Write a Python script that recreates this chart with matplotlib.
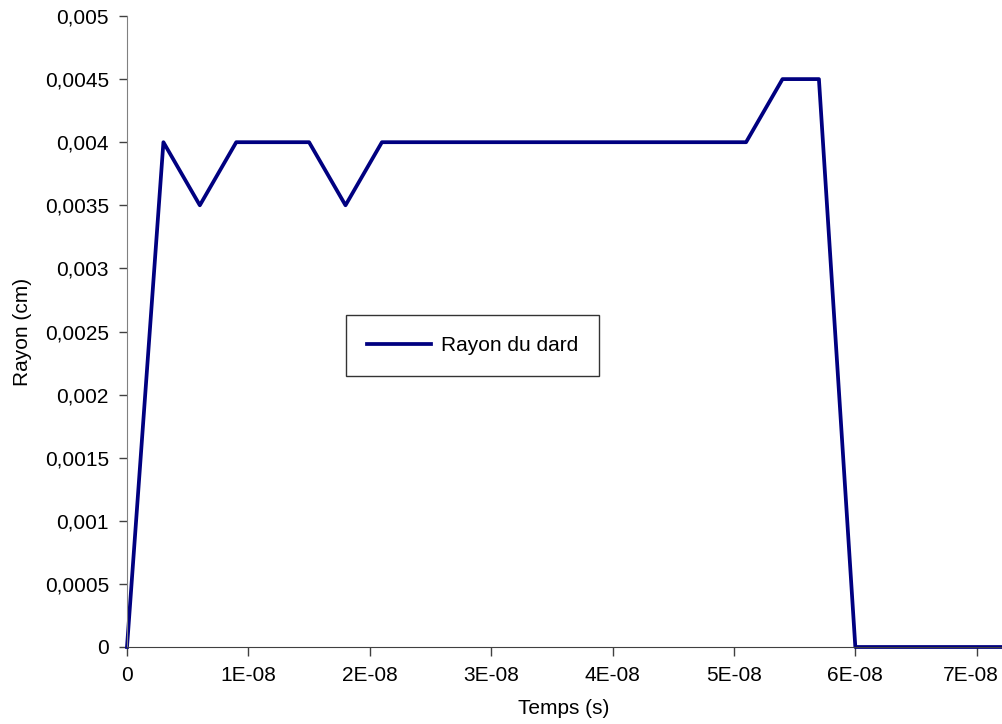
import matplotlib
matplotlib.use('Agg')
import matplotlib.pyplot as plt
import matplotlib.transforms as mtransforms
from matplotlib.ticker import FuncFormatter, MultipleLocator

plt.rcParams['font.family'] = ['Liberation Sans', 'DejaVu Sans']

# temps (s) et rayon (cm)
temps = [0, 3e-9, 6e-9, 9e-9, 12e-9, 15e-9, 18e-9, 21e-9, 24e-9, 27e-9,
         30e-9, 33e-9, 36e-9, 39e-9, 42e-9, 45e-9, 48e-9, 51e-9, 54e-9,
         57e-9, 60e-9, 63e-9, 66e-9, 69e-9, 72e-9]
rayon = [0, 0.004, 0.0035, 0.004, 0.004, 0.004, 0.0035, 0.004, 0.004, 0.004,
         0.004, 0.004, 0.004, 0.004, 0.004, 0.004, 0.004, 0.004, 0.0045,
         0.0045, 0, 0, 0, 0, 0]

fig = plt.figure(figsize=(10.03, 7.24), dpi=100)
ax = fig.add_axes([127 / 1003, 77 / 724, 874 / 1003, 631 / 724])

ax.plot(temps, rayon, color='#000080', lw=2.7, label='Rayon du dard', clip_on=False)

ax.set_xlim(0, 7.2e-8)
ax.set_ylim(0, 0.005)
ax.xaxis.set_major_locator(MultipleLocator(1e-8))
ax.yaxis.set_major_locator(MultipleLocator(0.0005))


def fmt_x(v, pos):
    n = int(round(v * 1e8))
    return '0' if n == 0 else '%dE-08' % n


def fmt_y(v, pos):
    return ('%g' % round(v, 6)).replace('.', ',')


ax.xaxis.set_major_formatter(FuncFormatter(fmt_x))
ax.yaxis.set_major_formatter(FuncFormatter(fmt_y))

for s in ['top', 'right']:
    ax.spines[s].set_visible(False)
ax.spines['left'].set_color('#808080')
ax.spines['bottom'].set_color('#404040')
ax.tick_params(direction='out', width=1, color='#404040', labelsize=15)
ax.tick_params(axis='y', length=6, pad=7)
ax.tick_params(axis='x', length=6.5, pad=7)

ax.set_xlabel('Temps (s)', fontsize=15, labelpad=10)
ax.set_ylabel('Rayon (cm)', fontsize=15, labelpad=9)

leg = ax.legend(loc='center', bbox_to_anchor=(0.395, 0.478), fontsize=15,
                fancybox=False, frameon=True, borderpad=1.0, handlelength=3.1,
                handletextpad=0.45, borderaxespad=0)
leg.get_frame().set_edgecolor('black')
leg.get_frame().set_linewidth(1.0)

# le dernier libelle (7E-08) est un peu decale a gauche pour rester dans l'image
fig.canvas.draw()
shift = mtransforms.ScaledTranslation(-6 / 100, 0, fig.dpi_scale_trans)
for lab in ax.get_xticklabels():
    if lab.get_text() == '7E-08':
        lab.set_transform(lab.get_transform() + shift)

plt.savefig('out.png', dpi=100)
